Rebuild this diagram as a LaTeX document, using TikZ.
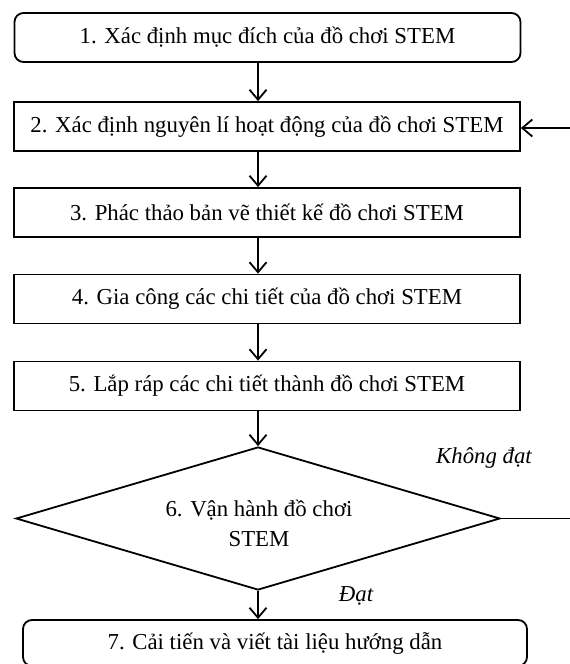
\documentclass[tikz,border=0pt]{standalone}
\usepackage{fontspec}
\setmainfont{Liberation Serif}
\usetikzlibrary{shapes.geometric,arrows.meta}
\begin{document}
\begin{tikzpicture}[x=1pt,y=-1pt,
  every node/.style={font=\fontsize{22.8}{30}\selectfont},
  box/.style={draw, line width=1.8pt, minimum width=506pt, minimum height=49pt, inner sep=0pt},
  rbox/.style={box, rounded corners=9pt},
  dec/.style={draw, diamond, line width=1.8pt, aspect=3.38, minimum width=484pt, minimum height=143pt, inner sep=0pt},
  arr/.style={line width=1.8pt, -{Straight Barb[length=10pt,width=17pt,line width=1.8pt]}},
  conn/.style={line width=1.8pt},
  lbl/.style={font=\fontsize{22.8}{27}\selectfont\itshape}
]
\path[use as bounding box] (0,0) rectangle (570,664);
\clip (0,0) rectangle (570,664);

\node[rbox] (b1) at (267.5,37.5) {1. Xác định mục đích của đồ chơi STEM};
\node[box] (b2) at (267,126.5) {2. Xác định nguyên lí hoạt động của đồ chơi STEM};
\node[box] (b3) at (267,212.5) {3. Phác thảo bản vẽ thiết kế đồ chơi STEM};
\node[box] (b4) at (267,299) {4. Gia công các chi tiết của đồ chơi STEM};
\node[box] (b5) at (267,386) {5. Lắp ráp các chi tiết thành đồ chơi STEM};
\node[dec] (d) at (258,518.5) {};
\node[align=center, inner sep=0pt] (dt) at (259,523) {6. Vận hành đồ chơi\\STEM};
\node[rbox, minimum width=504pt, minimum height=46pt] (b7) at (275,643) {7. Cải tiến và viết tài liệu hướng dẫn};

\node[lbl] (nd) at (484,458) {Không đạt};
\node[lbl] (ok) at (356,596) {Đạt};

\coordinate (r) at (570,128);

\draw[arr] (b1.south -| d.north) -- (b2.north -| d.north);
\draw[arr] (b2.south -| d.north) -- (b3.north -| d.north);
\draw[arr] (b3.south -| d.north) -- (b4.north -| d.north);
\draw[arr] (b4.south -| d.north) -- (b5.north -| d.north);
\draw[arr] (b5.south -| d.north) -- (d.north);
\draw[arr] (d.south) -- (b7.north -| d.south);
\draw[conn] (d.east) -- (d.east -| r);
\draw[arr] (r) -- (r -| b2.east);
\end{tikzpicture}
\end{document}
